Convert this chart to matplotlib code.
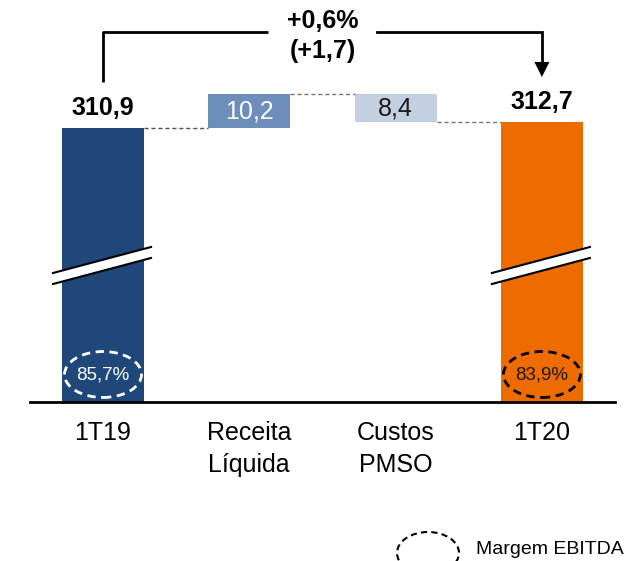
import numpy as np
import matplotlib
matplotlib.use("Agg")
import matplotlib.pyplot as plt
from matplotlib.patches import Ellipse, Polygon

plt.rcParams['font.family'] = ['Liberation Sans', 'DejaVu Sans']

# data
categories = ['1T19', 'Receita\nLíquida', 'Custos\nPMSO', '1T20']
start_val = 310.9
deltas = [10.2, -8.4]
end_val = 312.7
labels = ['310,9', '10,2', '8,4', '312,7']
margins = ['85,7%', '83,9%']
var_text = '+0,6%\n(+1,7)'

colors = ['#1f477a', '#6d8dbb', '#c4cfe2', '#ee6b00']
label_colors = ['black', 'white', '#1a1a1a', 'black']

# pixel scale helpers (axis is broken, base value hidden below the break)
PXX = 146.3          # px per category
PXY = 3.3            # px per unit
BASE = 227.9         # value at the baseline
W = 0.56

fig = plt.figure(figsize=(6.29, 5.61), dpi=100)
ax = fig.add_axes([0, 159 / 561, 1, 402 / 561])
ax.set_xlim(-103 / PXX, (629 - 103) / PXX)
ax.set_ylim(BASE, BASE + 402 / PXY)

def vy(p):
    # pixel row -> value
    return BASE + (402 - p) / PXY

x = np.arange(len(categories))

# waterfall pieces
r1 = start_val + deltas[0]
r2 = r1 + deltas[1]
bottoms = [0, start_val, r2, 0]
heights = [start_val, deltas[0], -deltas[1], end_val]
ax.bar(x, heights, bottom=bottoms, width=W, color=colors, linewidth=0)

# connectors
ax.hlines(start_val, x[0] + W / 2, x[1] - W / 2, colors='#555555', linestyles=(0, (3, 2)), lw=1)
ax.hlines(r1, x[1] + W / 2, x[2] - W / 2, colors='#777777', linestyles=(0, (3, 2)), lw=1)
ax.hlines(r2, x[2] + W / 2, x[3] - W / 2, colors='#777777', linestyles=(0, (3, 2)), lw=1)

# value labels
ax.annotate(labels[0], (x[0], start_val), xytext=(0, 6), textcoords='offset points',
            ha='center', va='bottom', fontsize=18, fontweight='bold', color=label_colors[0])
ax.annotate(labels[3], (x[3], end_val), xytext=(0, 6), textcoords='offset points',
            ha='center', va='bottom', fontsize=18, fontweight='bold', color=label_colors[3])
ax.text(x[1], start_val + deltas[0] / 2, labels[1], ha='center', va='center',
        fontsize=18, color=label_colors[1])
ax.text(x[2], r2 - deltas[1] / 2, labels[2], ha='center', va='center',
        fontsize=18, color=label_colors[2])

# axis break marks
for xi in (x[0], x[3]):
    xl, xr = xi - 50 / PXX, xi + 48 / PXX
    y1l, y1r = vy(273), vy(247)
    gap = 11 / PXY
    ax.add_patch(Polygon([[xl, y1l], [xr, y1r], [xr, y1r - gap], [xl, y1l - gap]],
                         closed=True, facecolor='white', edgecolor='none', zorder=3))
    ax.plot([xl, xr], [y1l, y1r], color='black', lw=1.5, zorder=4)
    ax.plot([xl, xr], [y1l - gap, y1r - gap], color='black', lw=1.5, zorder=4)

# EBITDA margin ellipses
for xi, txt, ec, tc in ((x[0], margins[0], 'white', 'white'), (x[3], margins[1], 'black', '#1a1a1a')):
    ax.add_patch(Ellipse((xi, vy(374.5)), 77 / PXX, 46 / PXY, facecolor='none',
                         edgecolor=ec, lw=2, linestyle=(0, (3, 2)), zorder=4))
    ax.text(xi, vy(375), txt, ha='center', va='center', fontsize=13.5, color=tc, zorder=5)

# variation bracket
ax.plot([x[0], x[0], 1.128], [vy(82), vy(32), vy(32)], color='black', lw=2, solid_capstyle='butt')
ax.plot([1.873, x[3], x[3]], [vy(32), vy(32), vy(63)], color='black', lw=2, solid_joinstyle='miter')
hw = 7.5 / PXX
ax.add_patch(Polygon([[x[3] - hw, vy(62)], [x[3] + hw, vy(62)], [x[3], vy(77)]],
                     closed=True, facecolor='black', edgecolor='none'))
ax.text(1.5, vy(36), var_text, ha='center', va='center', fontsize=18,
        fontweight='bold', linespacing=1.35)

# axes styling
for s in ('top', 'left', 'right'):
    ax.spines[s].set_visible(False)
ax.spines['bottom'].set_linewidth(2)
ax.spines['bottom'].set_bounds(-0.5, 3.5)
ax.set_yticks([])
ax.set_xticks(x)
ax.set_xticklabels(categories, fontsize=18, linespacing=1.4)
ax.tick_params(axis='x', length=0, pad=14)
ax.patch.set_alpha(0)

# legend
fig.add_artist(Ellipse((428 / 629, 1 - 553 / 561), 62 / 629, 42 / 561,
                       transform=fig.transFigure, facecolor='none', edgecolor='black',
                       lw=1.5, linestyle=(0, (3, 2))))
fig.text(476 / 629, 1 - 550 / 561, 'Margem EBITDA', fontsize=14, va='center', ha='left')

fig.savefig('out.png', dpi=100)
